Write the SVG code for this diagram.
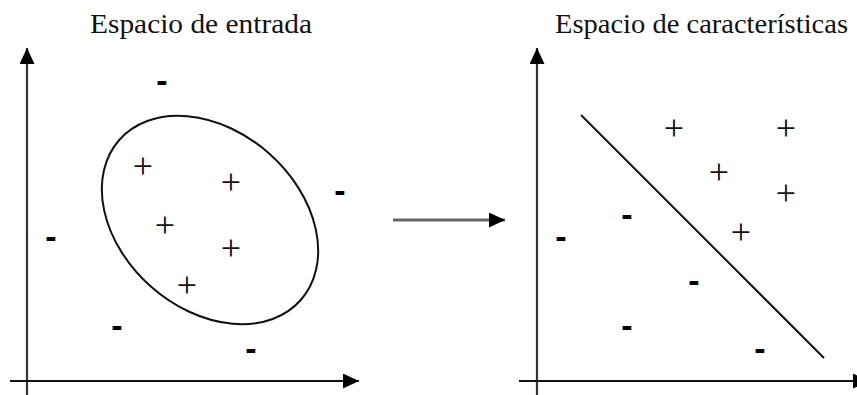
<svg xmlns="http://www.w3.org/2000/svg" width="857" height="395" viewBox="0 0 857 395">
<style>
.title{font-family:"Liberation Serif","Times New Roman",serif;font-size:28px;fill:#111}
.plus{font-family:"Liberation Serif","Times New Roman",serif;font-size:36px;fill:#111;text-anchor:middle}
.minus{font-family:"Liberation Sans",Arial,sans-serif;font-size:34px;font-weight:bold;fill:#000;text-anchor:middle}
.axis{stroke:#333;stroke-width:2.2;fill:none}
.xaxis{stroke:#111;stroke-width:2;fill:none}
.map{stroke:#666;stroke-width:3;fill:none}
.shape{stroke:#111;stroke-width:2;fill:none}
</style>
<defs>
<marker id="ah" markerUnits="userSpaceOnUse" markerWidth="16" markerHeight="15" refX="16" refY="7.5" orient="auto">
<path d="M0,0 L16,7.5 L0,15 Z" fill="#000"/>
</marker>
</defs>
<g id="titles">
<text class="title" x="90" y="33" textLength="222" lengthAdjust="spacingAndGlyphs">Espacio de entrada</text>
<text class="title" x="555" y="33" textLength="293" lengthAdjust="spacingAndGlyphs">Espacio de características</text>
</g>
<g id="connectors">
<line class="axis" x1="27" y1="395" x2="27" y2="48" marker-end="url(#ah)"/>
<line class="xaxis" x1="10" y1="381" x2="359" y2="381" marker-end="url(#ah)"/>
<line class="axis" x1="537" y1="395" x2="537" y2="48" marker-end="url(#ah)"/>
<line class="xaxis" x1="519" y1="381" x2="869" y2="381" marker-end="url(#ah)"/>
<line class="map" x1="393" y1="220" x2="505" y2="220" marker-end="url(#ah)"/>
</g>
<g id="input-space">
<ellipse class="shape" cx="210" cy="220" rx="121" ry="89" transform="rotate(41.4 210 220)"/>
<text class="plus" x="143" y="178">+</text>
<text class="plus" x="231" y="194">+</text>
<text class="plus" x="165" y="237">+</text>
<text class="plus" x="231" y="260">+</text>
<text class="plus" x="187" y="297">+</text>
<text class="minus" x="162" y="92">-</text>
<text class="minus" x="340" y="202">-</text>
<text class="minus" x="51" y="248">-</text>
<text class="minus" x="117" y="337">-</text>
<text class="minus" x="251" y="360">-</text>
</g>
<g id="feature-space">
<line class="shape" x1="581" y1="115" x2="824" y2="358"/>
<text class="plus" x="674" y="140">+</text>
<text class="plus" x="786" y="140">+</text>
<text class="plus" x="719" y="184">+</text>
<text class="plus" x="786" y="205">+</text>
<text class="plus" x="741" y="244">+</text>
<text class="minus" x="627" y="226">-</text>
<text class="minus" x="561" y="248">-</text>
<text class="minus" x="694" y="292">-</text>
<text class="minus" x="627" y="337">-</text>
<text class="minus" x="760" y="360">-</text>
</g>
</svg>
